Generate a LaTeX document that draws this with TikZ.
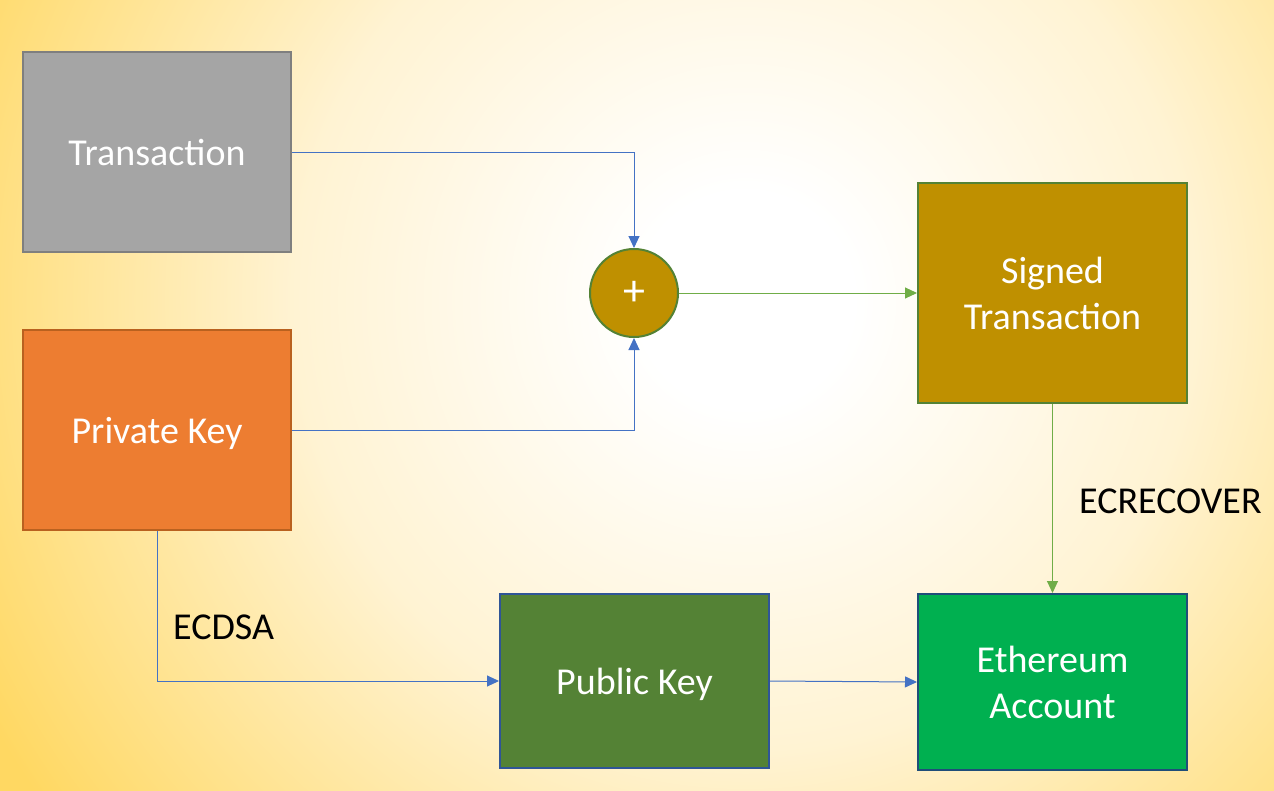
\documentclass[tikz,border=0pt]{standalone}
\usepackage{fontspec}
\setmainfont{Carlito}
\usetikzlibrary{arrows.meta}
\definecolor{bgyellow}{HTML}{FFD862}
\definecolor{bgcream}{HTML}{FFF3D3}
\definecolor{grayfill}{HTML}{A5A5A5}
\definecolor{grayline}{HTML}{7F7F7F}
\definecolor{orangefill}{HTML}{ED7D31}
\definecolor{orangeline}{HTML}{B9611F}
\definecolor{goldfill}{HTML}{BF9000}
\definecolor{greenline}{HTML}{548235}
\definecolor{pubfill}{HTML}{548235}
\definecolor{blueline}{HTML}{2F5597}
\definecolor{ethfill}{HTML}{00B050}
\definecolor{ethline}{HTML}{1F4E79}
\definecolor{conblue}{HTML}{4472C4}
\definecolor{congreen}{HTML}{70AD47}
\pgfdeclareradialshading{bgshade}{\pgfpoint{0bp}{0bp}}{color(0bp)=(white); color(3bp)=(white); color(12.5bp)=(bgcream); color(24bp)=(bgyellow); color(50bp)=(bgyellow)}
\begin{document}
\begin{tikzpicture}[x=1pt,y=-1pt,
  boxstyle/.style={rectangle, draw, line width=2pt, inner sep=0pt, text=white, align=center,
    font=\fontsize{38}{46}\selectfont},
  oneline/.style={text depth=0pt},
  bconn/.style={draw=conblue, line width=1pt, -{Triangle[length=12pt,width=11pt]}},
  gconn/.style={draw=congreen, line width=1pt, -{Triangle[length=12pt,width=11pt]}},
  lbl/.style={text=black, font=\fontsize{38}{46}\selectfont, inner sep=0pt}
]
\useasboundingbox (0,0) rectangle (1274,790);
\begin{scope}
\clip (0,0) rectangle (1274,790);
\fill[bgyellow] (-10,-10) rectangle (1284,800);
\shade[shading=bgshade] (745,300) circle (900);
\end{scope}

\node[boxstyle, oneline, fill=grayfill, draw=grayline, minimum width=268pt, minimum height=200pt] (tx) at (157,152) {Transaction};
\node[boxstyle, oneline, fill=orangefill, draw=orangeline, minimum width=268pt, minimum height=200pt] (pk) at (157,430) {Private Key};
\node[circle, draw=greenline, line width=2pt, fill=goldfill, minimum size=88pt, inner sep=0pt, text=white,
  font=\fontsize{44}{50}\selectfont] (plus) at (634,293) {+};
\node[boxstyle, fill=goldfill, draw=greenline, minimum width=269pt, minimum height=220pt] (st) at (1052.5,293) {Signed\\Transaction};
\node[boxstyle, oneline, fill=pubfill, draw=blueline, minimum width=269pt, minimum height=174pt] (pub) at (634.5,681) {Public Key};
\node[boxstyle, fill=ethfill, draw=ethline, minimum width=269pt, minimum height=176pt] (ea) at (1052.5,682) {Ethereum\\Account};

\draw[bconn] (tx.east) -| (plus.north);
\draw[bconn] (pk.east) -| (plus.south);
\draw[gconn] (plus.east) -- (st.west);
\draw[gconn] (st.south) -- (ea.north);
\draw[bconn] (pk.south) |- (pub.west);
\draw[bconn] (pub.east) -- (ea.west);

\node[lbl, anchor=west] (ecdsa) at (173,627) {ECDSA};
\node[lbl, anchor=west] (ecrec) at (1079,501) {ECRECOVER};
\end{tikzpicture}
\end{document}
